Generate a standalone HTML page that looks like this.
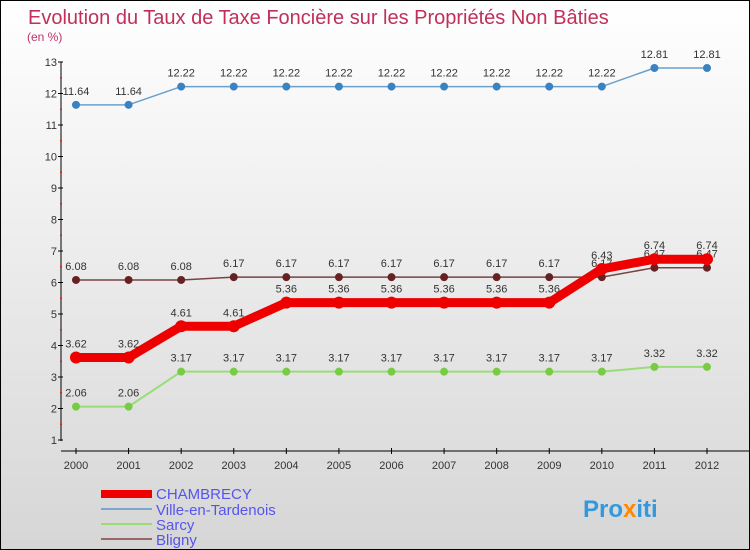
<!DOCTYPE html>
<html><head><meta charset="utf-8"><style>
body{margin:0;}
#c{width:748px;height:548px;border:1px solid #000;background:linear-gradient(#ffffff,#d6d6d6);position:relative;overflow:hidden;font-family:"Liberation Sans",sans-serif;}
svg text{font-family:"Liberation Sans",sans-serif;}
</style></head><body>
<div id="c">
<svg id="s" width="748" height="548" xmlns="http://www.w3.org/2000/svg">
<text x="27" y="23" font-size="20" fill="#c0305a">Evolution du Taux de Taxe Foncière sur les Propriétés Non Bâties</text>
<text x="26" y="40" font-size="12" fill="#c0306a">(en %)</text>
<g id="axes"></g><g id="series"></g>
<g>
<rect x="100" y="489" width="51" height="8" fill="#ee0000"/>
<text x="155" y="498" font-size="15" fill="#5555ee">CHAMBRECY</text>
<rect x="100" y="507" width="51" height="2" fill="#7aa8cc"/>
<text x="155" y="514" font-size="15" fill="#5555ee">Ville-en-Tardenois</text>
<rect x="100" y="522" width="51" height="2" fill="#99dd77"/>
<text x="155" y="529" font-size="15" fill="#5555ee">Sarcy</text>
<rect x="100" y="537" width="51" height="2" fill="#996666"/>
<text x="155" y="544" font-size="15" fill="#5555ee">Bligny</text>
</g>
<text x="582" y="516" font-size="24" font-weight="bold" fill="#3399dd">Pro<tspan fill="#ff8800">x</tspan>iti</text>
</svg></div>
<script>
const years=[2000,2001,2002,2003,2004,2005,2006,2007,2008,2009,2010,2011,2012];
const yTicks=[1,2,3,4,5,6,7,8,9,10,11,12,13];
const chambrecy=[3.62,3.62,4.61,4.61,5.36,5.36,5.36,5.36,5.36,5.36,6.43,6.74,6.74];
const ville=[11.64,11.64,12.22,12.22,12.22,12.22,12.22,12.22,12.22,12.22,12.22,12.81,12.81];
const sarcy=[2.06,2.06,3.17,3.17,3.17,3.17,3.17,3.17,3.17,3.17,3.17,3.32,3.32];
const bligny=[6.08,6.08,6.08,6.17,6.17,6.17,6.17,6.17,6.17,6.17,6.17,6.47,6.47];
const NS="http://www.w3.org/2000/svg";
function X(i){return 75+i*(706-75)/(years.length-1);}
function Y(v){return 439-(v-1)*31.5;}
function mk(t,a,p){const e=document.createElementNS(NS,t);for(const k in a)e.setAttribute(k,a[k]);p.appendChild(e);return e;}
const ax=document.getElementById('axes'),sg=document.getElementById('series');
let e=mk('line',{x1:60,y1:61,x2:60,y2:440,stroke:'#000'},ax);


e=mk('line',{x1:60,y1:450,x2:748,y2:450,stroke:'#000'},ax);


yTicks.forEach(v=>{
 mk('line',{x1:57,y1:Y(v),x2:62,y2:Y(v),stroke:'#000'},ax);
 if(v<13)mk('line',{x1:59,y1:Y(v+0.5),x2:61,y2:Y(v+0.5),stroke:'#f00'},ax);
 const t=mk('text',{x:56,y:Y(v)+4,'font-size':11,fill:'#333','text-anchor':'end'},ax);t.textContent=v;
 
 
});
years.forEach((y,i)=>{
 mk('line',{x1:X(i),y1:447,x2:X(i),y2:453,stroke:'#000'},ax);
 const t=mk('text',{x:X(i),y:468,'font-size':11,fill:'#333','text-anchor':'middle'},ax);t.textContent=y;
 
 
});
function series(d,name,col,w,r,dot,lab){
 const g=mk('g',{},sg);
 
 
 mk('polyline',{points:d.map((v,i)=>X(i)+','+Y(v)).join(' '),fill:'none',stroke:col,'stroke-width':w,'stroke-linejoin':'round'},g);
 d.forEach((v,i)=>{
  const c=mk('circle',{cx:X(i),cy:Y(v),r:r,fill:dot},g);
  
  
  const t=mk('text',{x:X(i),y:Y(v)-10,'font-size':11,fill:'#333','text-anchor':'middle'},g);t.textContent=v.toFixed(2);
  
  
 });
}
series(ville,'ville-en-tardenois','#6aa0cc',1.5,4,'#3b82c0');
series(sarcy,'sarcy','#99dd77',2,4,'#77cc44');
series(bligny,'bligny','#774444',1.5,4,'#662222');
series(chambrecy,'chambrecy','#ee0000',9,6,'#ee0000');
</script>
</body></html>
